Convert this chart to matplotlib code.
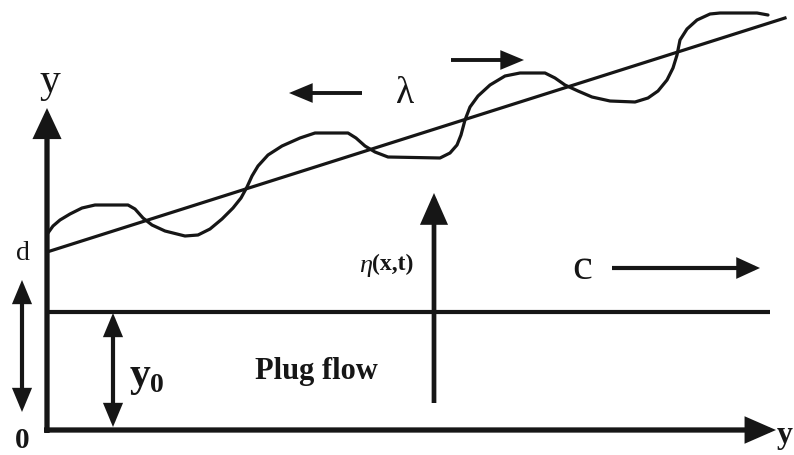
import matplotlib
matplotlib.use("Agg")
import matplotlib.pyplot as plt
from matplotlib.patches import FancyArrowPatch

# ---- diagram data (pixel-like canvas coordinates, y downward) ----
wave_x = [48, 53, 60, 70, 82, 95, 128, 135, 143, 152, 165, 185, 198, 210, 222, 233, 241, 247, 252, 258, 268, 282,
          300, 315, 348, 356, 365, 375, 388, 440, 450, 457, 461, 465, 470, 478, 490, 505, 520, 545, 555, 565, 578,
          592, 610, 635, 648, 658, 667, 673, 677, 680, 687, 697, 710, 720, 757, 768]
wave_y = [233, 226, 220, 214, 208, 205, 205, 209, 218, 225, 231, 236, 235, 229, 219, 208, 198, 187, 176, 166, 155, 146,
          138, 133, 133, 138, 146, 152, 157, 158, 153, 145, 135, 120, 107, 96, 85, 76, 73, 73, 78, 85, 91,
          97, 101, 102, 98, 91, 80, 68, 55, 40, 29, 20, 14, 13, 13, 15]
mean_line_x = [47, 785]
mean_line_y = [252, 18]
plug_line_x = [47, 770]
plug_line_y = [312, 312]

labels = {
    "y_axis": "y",
    "x_axis": "y",
    "d": "d",
    "zero": "0",
    "lambda": "λ",
    "eta": "η",
    "eta_args": "(x,t)",
    "c": "c",
    "y0": "y",
    "y0_sub": "0",
    "plug": "Plug flow",
}

fig = plt.figure(figsize=(7.94, 4.55), dpi=100)
ax = fig.add_axes([0, 0, 1, 1])
ax.set_xlim(0, 794)
ax.set_ylim(455, 0)
ax.axis("off")

K = "#161616"
SERIF = "Liberation Serif"


def arrow(p0, p1, lw, hl, hw, style="-|>"):
    a = FancyArrowPatch(p0, p1, arrowstyle=f"{style},head_length={hl},head_width={hw}",
                        mutation_scale=1, lw=lw, color=K, shrinkA=0, shrinkB=0,
                        joinstyle="miter", capstyle="butt")
    ax.add_patch(a)


# axes
arrow((47, 433), (47, 108), lw=3.8, hl=16, hw=7.5)
arrow((44, 430), (776, 430), lw=3.8, hl=16, hw=7)
# horizontal plug-flow boundary
ax.plot(plug_line_x, plug_line_y, color=K, lw=3.0, solid_capstyle="butt")
# mean slope line and wave
ax.plot(mean_line_x, mean_line_y, color=K, lw=2.3)
ax.plot(wave_x, wave_y, color=K, lw=2.3, solid_joinstyle="round", solid_capstyle="round")

# double arrows
arrow((22, 412), (22, 280), lw=3.0, hl=12, hw=5, style="<|-|>")
arrow((113, 427), (113, 313), lw=3.0, hl=12, hw=5, style="<|-|>")
# eta arrow
arrow((434, 403), (434, 193), lw=3.4, hl=17, hw=7.5)
# c arrow
arrow((612, 268), (760, 268), lw=3.0, hl=12, hw=5.5)
# lambda arrows
arrow((362, 93), (289, 93), lw=2.8, hl=12, hw=5)
arrow((451, 60), (524, 60), lw=2.8, hl=12, hw=5)

# texts
ax.text(50, 82, labels["y_axis"], fontsize=30, family=SERIF, ha="center", va="center", color=K)
ax.text(777, 436, labels["x_axis"], fontsize=23, family=SERIF, weight="bold", ha="left", va="center", color=K)
ax.text(23, 253, labels["d"], fontsize=20, family=SERIF, ha="center", va="center", color=K)
ax.text(22, 440, labels["zero"], fontsize=21, family=SERIF, weight="bold", ha="center", va="center", color=K)
ax.text(405, 94, labels["lambda"], fontsize=27, family=SERIF, ha="center", va="center", color=K)
ax.text(366, 266, labels["eta"], fontsize=19, family=SERIF, style="italic", ha="center", va="center", color=K)
ax.text(372, 264, labels["eta_args"], fontsize=17, family=SERIF, weight="bold", ha="left", va="center", color=K)
ax.text(582, 268, labels["c"], fontsize=32, family=SERIF, ha="center", va="center", color=K)
ax.text(140, 376, labels["y0"], fontsize=30, family=SERIF, weight="bold", ha="center", va="center", color=K)
ax.text(157, 385, labels["y0_sub"], fontsize=20, family=SERIF, weight="bold", ha="center", va="center", color=K)
ax.text(316, 371, labels["plug"], fontsize=22, family=SERIF, weight="bold", ha="center", va="center", color=K)

fig.savefig("out.png", dpi=100, facecolor="white")
